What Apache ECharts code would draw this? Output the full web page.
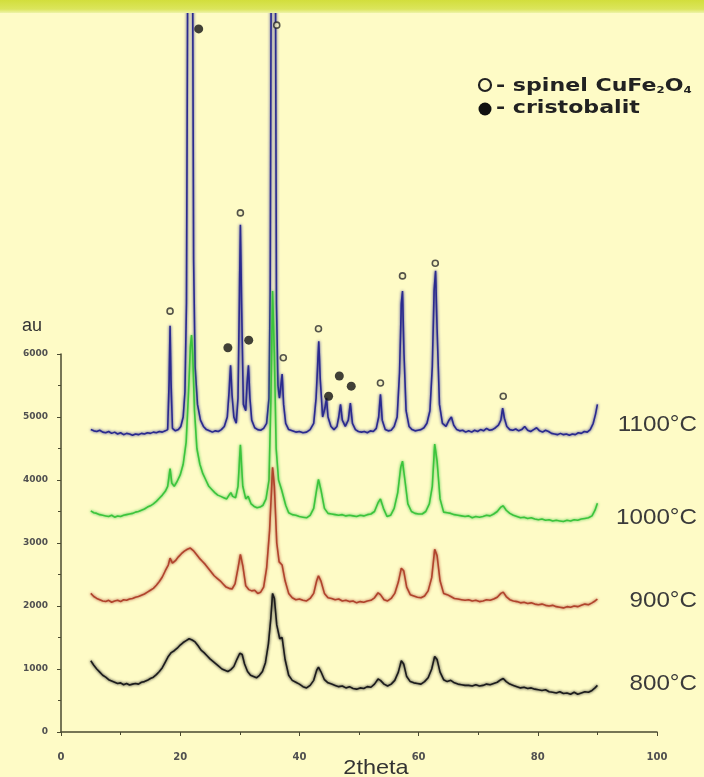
<!DOCTYPE html>
<html>
<head>
<meta charset="utf-8">
<script src="https://cdn.jsdelivr.net/npm/echarts@6/dist/echarts.min.js"></script>
<style>
  html, body { margin: 0; padding: 0; background: #fefbc6; }
  #chart { width: 704px; height: 777px; }
</style>
</head>
<body>
<div id="chart"></div>
<script>
// XRD patterns of the CuFe2O4 samples calcined at 800-1100 °C (2theta, intensity in au)
const curve800 = [
  [5.0,1130],[5.5,1060],[6.0,1000],[6.5,950],[7.0,900],[7.5,870],[8.0,830],[8.5,810],[9.0,790],[9.5,770],
  [10.0,780],[10.5,750],[11.0,770],[11.5,745],[12.0,760],[12.5,770],[13.0,760],[13.5,790],[14.0,800],[14.5,820],
  [15.0,850],[15.5,870],[16.0,910],[16.5,960],[17.0,1020],[17.5,1110],[18.0,1200],[18.5,1260],[19.0,1290],[19.5,1330],
  [20.0,1380],[20.5,1420],[21.0,1450],[21.5,1480],[22.0,1460],[22.5,1430],[23.0,1370],[23.5,1300],[24.0,1260],[24.5,1210],
  [25.0,1160],[25.5,1120],[26.0,1080],[26.5,1040],[27.0,1000],[27.5,980],[28.0,960],[28.5,990],[29.0,1040],[29.5,1150],
  [30.0,1250],[30.4,1230],[30.8,1080],[31.3,960],[31.8,900],[32.3,880],[32.8,860],[33.3,900],[33.8,960],[34.3,1100],
  [34.8,1400],[35.2,1800],[35.5,2200],[35.8,2120],[36.2,1700],[36.7,1480],[37.1,1500],[37.6,1150],[38.2,900],[38.8,820],
  [39.4,790],[40.0,760],[40.6,720],[41.2,700],[41.8,740],[42.4,820],[42.9,980],[43.2,1030],[43.6,960],[44.2,830],
  [44.8,780],[45.4,760],[46.0,740],[46.6,720],[47.2,730],[47.8,700],[48.4,720],[49.0,690],[49.6,680],[50.2,700],
  [50.8,690],[51.4,720],[52.0,710],[52.6,760],[53.2,840],[53.6,820],[54.2,760],[54.8,730],[55.4,760],[56.0,820],
  [56.6,950],[57.1,1130],[57.5,1080],[58.0,880],[58.6,800],[59.2,780],[59.8,770],[60.4,760],[61.0,800],[61.6,860],
  [62.2,1000],[62.7,1200],[63.1,1150],[63.6,950],[64.2,830],[64.8,800],[65.4,820],[66.0,780],[66.6,760],[67.2,750],
  [67.8,740],[68.4,740],[69.0,730],[69.6,750],[70.2,730],[70.8,740],[71.4,760],[72.0,750],[72.6,770],[73.2,790],
  [73.8,830],[74.2,850],[74.7,800],[75.3,760],[75.9,740],[76.5,720],[77.1,700],[77.7,710],[78.3,690],[78.9,700],
  [79.5,680],[80.1,670],[80.7,660],[81.3,670],[81.9,640],[82.5,630],[83.1,620],[83.7,640],[84.3,610],[84.9,620],
  [85.5,600],[86.1,630],[86.7,600],[87.3,620],[87.9,640],[88.5,630],[89.1,660],[89.6,700],[90.0,740]
];

const curve900 = [
  [5.0,2200],[5.5,2150],[6.0,2120],[6.5,2100],[7.0,2080],[7.5,2070],[8.0,2090],[8.5,2060],[9.0,2080],[9.5,2090],
  [10.0,2070],[10.5,2100],[11.0,2090],[11.5,2110],[12.0,2120],[12.5,2140],[13.0,2150],[13.5,2170],[14.0,2190],[14.5,2220],
  [15.0,2250],[15.5,2280],[16.0,2330],[16.5,2390],[17.0,2460],[17.5,2560],[18.0,2650],[18.3,2760],[18.7,2680],[19.2,2720],
  [19.7,2780],[20.2,2830],[20.7,2870],[21.2,2900],[21.7,2920],[22.2,2880],[22.7,2820],[23.2,2760],[23.7,2710],[24.2,2660],
  [24.7,2600],[25.2,2540],[25.7,2480],[26.2,2440],[26.7,2400],[27.2,2350],[27.7,2300],[28.2,2280],[28.7,2270],[29.2,2350],
  [29.7,2600],[30.1,2820],[30.5,2640],[31.0,2320],[31.5,2260],[32.0,2240],[32.5,2250],[33.0,2200],[33.5,2220],[34.0,2300],
  [34.5,2600],[35.0,3200],[35.3,3800],[35.5,4200],[35.8,3900],[36.2,3000],[36.6,2700],[37.1,2650],[37.6,2400],[38.2,2200],
  [38.8,2130],[39.4,2100],[40.0,2110],[40.6,2090],[41.2,2080],[41.8,2120],[42.4,2200],[42.9,2400],[43.2,2480],[43.6,2400],
  [44.2,2200],[44.8,2130],[45.4,2120],[46.0,2100],[46.6,2110],[47.2,2080],[47.8,2090],[48.4,2070],[49.0,2080],[49.6,2050],
  [50.2,2070],[50.8,2060],[51.4,2080],[52.0,2090],[52.6,2130],[53.2,2210],[53.6,2180],[54.2,2100],[54.8,2080],[55.4,2120],
  [56.0,2200],[56.6,2380],[57.1,2600],[57.5,2560],[58.0,2300],[58.6,2180],[59.2,2160],[59.8,2140],[60.4,2130],[61.0,2160],
  [61.6,2240],[62.2,2450],[62.7,2900],[63.1,2800],[63.6,2400],[64.2,2200],[64.8,2180],[65.4,2150],[66.0,2120],[66.6,2110],
  [67.2,2100],[67.8,2090],[68.4,2100],[69.0,2080],[69.6,2090],[70.2,2070],[70.8,2080],[71.4,2100],[72.0,2090],[72.6,2110],
  [73.2,2140],[73.8,2200],[74.2,2220],[74.7,2150],[75.3,2100],[75.9,2080],[76.5,2070],[77.1,2050],[77.7,2060],[78.3,2040],
  [78.9,2050],[79.5,2030],[80.1,2020],[80.7,2030],[81.3,2010],[81.9,2000],[82.5,2010],[83.1,1990],[83.7,1980],[84.3,1970],
  [84.9,1990],[85.5,1980],[86.1,2000],[86.7,1990],[87.3,2010],[87.9,2030],[88.5,2020],[89.1,2050],[89.6,2080],[90.0,2110]
];

const curve1000 = [
  [5.0,3510],[5.5,3480],[6.0,3470],[6.5,3450],[7.0,3440],[7.5,3430],[8.0,3420],[8.5,3440],[9.0,3410],[9.5,3430],
  [10.0,3420],[10.5,3440],[11.0,3450],[11.5,3460],[12.0,3470],[12.5,3490],[13.0,3500],[13.5,3520],[14.0,3540],[14.5,3570],
  [15.0,3590],[15.5,3620],[16.0,3660],[16.5,3710],[17.0,3760],[17.5,3820],[17.9,3900],[18.3,4180],[18.6,3950],[19.0,3900],
  [19.5,3980],[20.0,4080],[20.5,4250],[21.0,4600],[21.4,5400],[21.7,6100],[21.9,6300],[22.1,6000],[22.4,5100],[22.8,4500],
  [23.3,4250],[23.8,4100],[24.3,4000],[24.8,3900],[25.3,3850],[25.8,3800],[26.3,3760],[26.8,3740],[27.3,3720],[27.8,3700],
  [28.2,3760],[28.5,3800],[28.8,3740],[29.3,3720],[29.7,3900],[30.1,4560],[30.5,3900],[31.0,3700],[31.4,3740],[31.9,3620],
  [32.4,3580],[32.9,3560],[33.4,3570],[33.9,3600],[34.4,3700],[34.9,4000],[35.2,5200],[35.5,7000],[35.8,6000],[36.1,4500],
  [36.5,4000],[37.0,3850],[37.3,3850],[37.7,3600],[38.2,3480],[38.8,3450],[39.4,3440],[40.0,3420],[40.6,3410],[41.2,3400],
  [41.8,3440],[42.4,3550],[42.9,3850],[43.2,4010],[43.6,3850],[44.2,3550],[44.8,3470],[45.4,3460],[46.0,3450],[46.6,3440],
  [47.2,3450],[47.8,3430],[48.4,3440],[49.0,3430],[49.6,3420],[50.2,3440],[50.8,3430],[51.4,3450],[52.0,3460],[52.6,3500],
  [53.2,3640],[53.6,3700],[54.1,3550],[54.7,3420],[55.3,3440],[55.9,3550],[56.5,3800],[57.0,4200],[57.3,4300],[57.7,4000],
  [58.2,3620],[58.8,3500],[59.4,3470],[60.0,3460],[60.6,3460],[61.2,3500],[61.8,3620],[62.3,3900],[62.7,4570],[63.1,4300],
  [63.6,3700],[64.2,3490],[64.8,3480],[65.4,3470],[66.0,3450],[66.6,3440],[67.2,3430],[67.8,3420],[68.4,3430],[69.0,3400],
  [69.6,3420],[70.2,3410],[70.8,3420],[71.4,3440],[72.0,3430],[72.6,3460],[73.2,3500],[73.8,3570],[74.2,3590],[74.7,3520],
  [75.3,3470],[75.9,3440],[76.5,3420],[77.1,3400],[77.7,3410],[78.3,3390],[78.9,3400],[79.5,3380],[80.1,3370],[80.7,3380],
  [81.3,3360],[81.9,3370],[82.5,3350],[83.1,3360],[83.7,3350],[84.3,3340],[84.9,3360],[85.5,3350],[86.1,3370],[86.7,3360],
  [87.3,3380],[87.9,3390],[88.5,3400],[89.1,3430],[89.6,3520],[90.0,3630]
];

const curve1100 = [
  [5.0,4800],[5.5,4780],[6.0,4770],[6.5,4790],[7.0,4760],[7.5,4750],[8.0,4770],[8.5,4740],[9.0,4760],[9.5,4730],
  [10.0,4750],[10.5,4720],[11.0,4740],[11.5,4730],[12.0,4710],[12.5,4730],[13.0,4720],[13.5,4740],[14.0,4730],[14.5,4750],
  [15.0,4740],[15.5,4760],[16.0,4750],[16.5,4770],[17.0,4760],[17.5,4780],[17.9,4800],[18.15,5600],[18.3,6450],[18.45,5600],
  [18.7,4820],[19.2,4780],[19.7,4800],[20.1,4850],[20.5,5000],[20.8,5400],[21.05,6800],[21.3,13000],[22.05,13000],[22.25,7500],
  [22.5,5800],[22.9,5200],[23.4,4950],[23.9,4850],[24.4,4800],[24.9,4780],[25.4,4760],[25.9,4780],[26.4,4770],
  [26.9,4800],[27.4,4850],[27.9,5000],[28.2,5400],[28.45,5820],[28.7,5350],[29.0,5000],[29.4,4900],[29.7,5300],[29.95,7000],
  [30.1,8050],[30.3,6800],[30.6,5200],[31.0,5100],[31.2,5500],[31.45,5820],[31.7,5300],[32.0,4950],[32.5,4830],[33.0,4800],
  [33.5,4790],[34.0,4820],[34.5,4900],[34.9,5300],[35.1,7000],[35.3,13000],[35.95,13000],[36.15,6800],[36.4,5500],[36.65,5300],
  [36.9,5500],[37.1,5680],[37.35,5200],[37.7,4900],[38.2,4800],[38.8,4780],[39.4,4760],[40.0,4770],[40.6,4750],[41.2,4760],
  [41.8,4800],[42.4,4900],[42.8,5300],[43.05,5800],[43.25,6200],[43.5,5600],[43.9,5000],[44.3,5150],[44.55,5300],[44.8,5000],
  [45.3,4850],[45.8,4800],[46.3,4850],[46.6,5000],[46.9,5200],[47.2,4950],[47.7,4850],[48.2,4950],[48.55,5220],[48.9,4900],
  [49.4,4800],[49.9,4770],[50.4,4760],[50.9,4770],[51.4,4750],[51.9,4780],[52.4,4770],[52.9,4820],[53.3,5000],[53.6,5360],
  [53.9,4950],[54.4,4800],[54.9,4780],[55.4,4790],[55.9,4850],[56.4,5000],[56.8,5700],[57.1,6800],[57.3,7000],[57.55,6000],
  [57.9,5100],[58.4,4850],[58.9,4800],[59.4,4780],[59.9,4790],[60.4,4800],[60.9,4830],[61.4,4900],[61.9,5100],[62.3,5800],
  [62.6,7000],[62.85,7320],[63.1,6400],[63.5,5200],[64.0,4900],[64.6,4850],[65.1,4950],[65.5,5000],[65.9,4870],[66.4,4800],
  [66.9,4780],[67.4,4790],[67.9,4760],[68.4,4780],[68.9,4760],[69.4,4790],[69.9,4770],[70.4,4800],[70.9,4780],[71.4,4820],
  [71.9,4790],[72.4,4800],[72.9,4830],[73.4,4870],[73.8,4950],[74.1,5140],[74.4,4980],[74.8,4850],[75.3,4800],[75.8,4790],
  [76.3,4810],[76.8,4780],[77.3,4800],[77.8,4850],[78.3,4790],[78.8,4770],[79.3,4800],[79.8,4830],[80.3,4780],[80.8,4760],
  [81.3,4790],[81.8,4770],[82.3,4740],[82.8,4730],[83.3,4720],[83.8,4740],[84.3,4720],[84.8,4730],[85.3,4710],[85.8,4730],
  [86.3,4720],[86.8,4750],[87.3,4740],[87.8,4770],[88.3,4760],[88.8,4800],[89.3,4900],[89.7,5050],[90.0,5200]
];

// Phase reflections marked above the 1100 °C pattern
const spinelMarks = [[18.3,6680],[30.1,8240],[36.2,11220],[37.3,5940],[43.2,6400],[53.6,5540],[57.3,7240],[62.8,7440],[74.2,5330]];
const cristobaliteMarks = [[23.1,11160],[28.0,6100],[31.5,6220],[44.9,5330],[46.7,5650],[48.7,5490]];

const xTicks = [0, 20, 40, 60, 80, 100];
const yTicks = [0, 1000, 2000, 3000, 4000, 5000, 6000];
const seriesNames = ['1100°C', '1000°C', '900°C', '800°C'];

const chart = echarts.init(document.getElementById('chart'), null, { renderer: 'canvas' });

const axisColor = '#4a4a30';
const lineSeries = (name, data, color, z) => ({
  name, type: 'line', data, z,
  showSymbol: false, clip: false, smooth: false,
  lineStyle: { color, width: 1.6, shadowColor: color, shadowBlur: 3 },
  silent: true
});

const tempLabel = (text, y) => ({
  type: 'text', x: 697, y, z: 50, scaleX: 1.1,
  style: { text, font: '22px "Liberation Sans"', fill: '#3a3a3a', align: 'right', verticalAlign: 'middle' }
});

chart.setOption({
  backgroundColor: '#fefbc6',
  animation: false,
  grid: { left: 61, right: 47, top: 354, bottom: 45, containLabel: false },
  xAxis: {
    type: 'value', min: xTicks[0], max: xTicks[xTicks.length - 1], interval: 20,
    axisLine: { show: true, lineStyle: { color: axisColor, width: 1.5 } },
    axisTick: { show: true, length: 4, lineStyle: { color: axisColor } },
    minorTick: { show: true, splitNumber: 2, length: 3, lineStyle: { color: axisColor } },
    axisLabel: { fontFamily: 'DejaVu Sans', fontSize: 10, fontWeight: 'bold', color: '#505050', margin: 20 },
    splitLine: { show: false }
  },
  yAxis: {
    type: 'value', min: yTicks[0], max: yTicks[yTicks.length - 1], interval: 1000,
    axisLine: { show: true, lineStyle: { color: axisColor, width: 1.5 } },
    axisTick: { show: true, length: 4, lineStyle: { color: axisColor } },
    minorTick: { show: true, splitNumber: 2, length: 3, lineStyle: { color: axisColor } },
    axisLabel: { fontFamily: 'DejaVu Sans', fontSize: 9, fontWeight: 'bold', color: '#505050', margin: 13,
      formatter: v => String(v) },
    splitLine: { show: false }
  },
  series: [
    lineSeries(seriesNames[0], curve1100, '#2a2a8e', 2),
    lineSeries(seriesNames[1], curve1000, '#3cc43c', 3),
    lineSeries(seriesNames[2], curve900, '#b0442c', 4),
    lineSeries(seriesNames[3], curve800, '#1c1c1c', 5),
    {
      name: 'spinel', type: 'scatter', data: spinelMarks, clip: false, z: 6, silent: true,
      symbol: 'circle', symbolSize: 6,
      itemStyle: { color: '#f4f1c0', borderColor: '#2a2a2a', borderWidth: 1.6 }
    },
    {
      name: 'cristobalit', type: 'scatter', data: cristobaliteMarks, clip: false, z: 6, silent: true,
      symbol: 'circle', symbolSize: 9,
      itemStyle: { color: '#111' }
    }
  ],
  graphic: [
    // header band
    {
      type: 'rect', left: 0, top: 0, z: 100,
      shape: { width: 704, height: 13 },
      style: {
        fill: new echarts.graphic.LinearGradient(0, 0, 0, 1, [
          { offset: 0, color: '#d2de3c' }, { offset: 0.7, color: '#dbe55c' }, { offset: 1, color: '#eef3a8' }
        ])
      }
    },
    // axis titles
    { type: 'text', x: 22, y: 326, z: 50,
      style: { text: 'au', font: '18px "Liberation Sans"', fill: '#333', verticalAlign: 'middle' } },
    { type: 'text', x: 376, y: 768, z: 50, scaleX: 1.12,
      style: { text: '2theta', font: '21px "Liberation Sans"', fill: '#333', align: 'center', verticalAlign: 'middle' } },
    // temperature labels
    tempLabel(seriesNames[0], 425),
    tempLabel(seriesNames[1], 518),
    tempLabel(seriesNames[2], 601),
    tempLabel(seriesNames[3], 684),
    // phase legend
    { type: 'circle', z: 50, shape: { cx: 485, cy: 85, r: 6 },
      style: { fill: '#fefbc6', stroke: '#222', lineWidth: 2.2 } },
    { type: 'circle', z: 50, shape: { cx: 485, cy: 109, r: 6.5 },
      style: { fill: '#111' } },
    {
      type: 'text', x: 496, y: 85, z: 50, scaleX: 1.3,
      style: {
        verticalAlign: 'middle',
        rich: {
          m: { fontFamily: 'DejaVu Sans', fontWeight: 'bold', fontSize: 17, fill: '#222', lineHeight: 20, verticalAlign: 'bottom' },
          s: { fontFamily: 'DejaVu Sans', fontWeight: 'bold', fontSize: 9, fill: '#222', lineHeight: 9, verticalAlign: 'bottom' }
        },
        text: '{m|- spinel CuFe}{s|2}{m|O}{s|4}'
      }
    },
    {
      type: 'text', x: 496, y: 109, z: 50, scaleX: 1.3,
      style: { text: '- cristobalit', font: 'bold 17px "DejaVu Sans"', fill: '#222', verticalAlign: 'middle' }
    }
  ]
});
</script>
</body>
</html>
